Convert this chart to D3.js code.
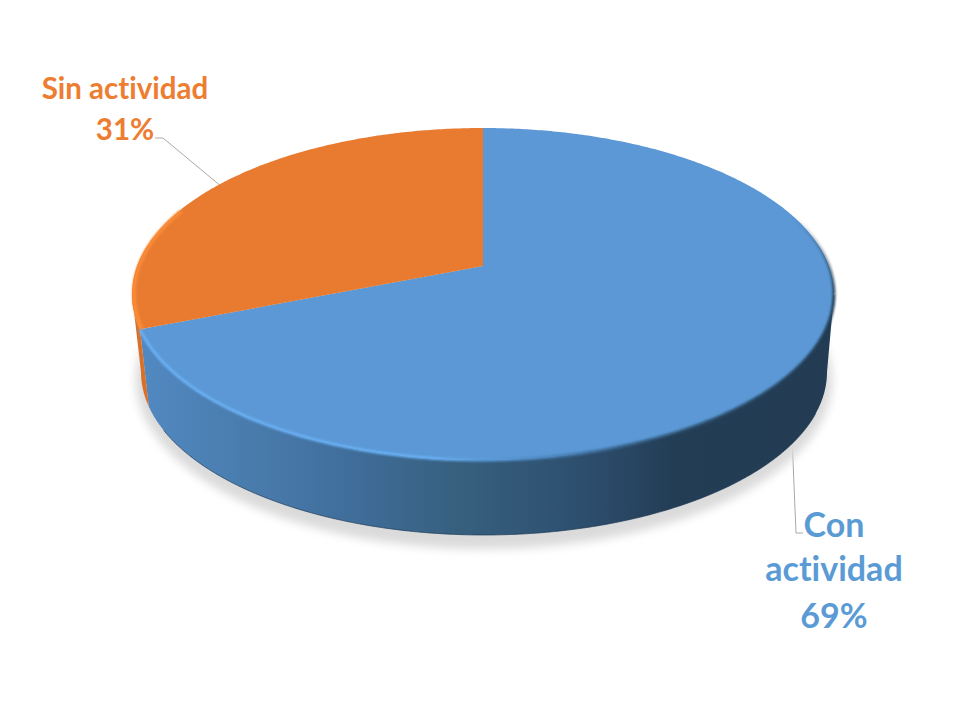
<!DOCTYPE html>
<html><head><meta charset="utf-8">
<script src="https://cdn.jsdelivr.net/npm/d3@7"></script>
<style>html,body{margin:0;background:#fff}svg{display:block}text{font-family:Lato,Carlito,sans-serif;font-weight:700;text-anchor:middle;font-variant-ligatures:none;font-feature-settings:"liga" 0}</style>
</head><body><script>
const categories = ["Con actividad", "Sin actividad"];
const values = [69, 31];
const percentLabels = ["69%", "31%"];
const sliceColors = ["#5b98d5", "#e97b30"];
const wallColors = ["#4a7fb5", "#d9702a"];
const rimColors = ["#69b0f5", "#fb8c38"];
const labelColors = ["#5b9bd5", "#ed7d31"];

const W = 960, H = 720;
const topDisc = {cx: 483, cy: 294, rx: 351, ry: 166};
const baseDisc = {cx: 484, cy: 372, rx: 343, ry: 163};
const a = (266 - 294) / 166; // perspective shift of the pie centre
const k = Math.sqrt(1 - a * a);

function project(d, t) {
  const u = Math.sin(t), v = -Math.cos(t), q = 1 + a * v;
  return [d.cx + d.rx * k * u / q, d.cy + d.ry * (v + a) / q];
}
function samples(d, t0, t1) {
  const n = Math.max(2, Math.ceil(Math.abs(t1 - t0) / 0.01));
  return d3.range(n + 1).map(i => project(d, t0 + (t1 - t0) * i / n));
}
const line = d3.line();
const svg = d3.select("body").append("svg").attr("width", W).attr("height", H);
const defs = svg.append("defs");

defs.append("filter").attr("id", "shadow").attr("x", "-10%").attr("y", "-10%").attr("width", "120%").attr("height", "120%")
  .append("feGaussianBlur").attr("stdDeviation", 5);
defs.append("filter").attr("id", "soft").attr("filterUnits", "userSpaceOnUse").attr("x", 0).attr("y", 0).attr("width", W).attr("height", H)
  .append("feGaussianBlur").attr("stdDeviation", 1.3);

const wallGrad = defs.append("linearGradient").attr("id", "wallBlue")
  .attr("gradientUnits", "userSpaceOnUse").attr("x1", 140).attr("x2", 840).attr("y1", 0).attr("y2", 0);
[[0, "#5189c1"], [0.14, "#4a7daf"], [0.3, "#406e9b"], [0.45, "#37607f"], [0.6, "#2f5272"], [0.68, "#2a4866"], [0.76, "#233d55"], [1, "#233c54"]]
  .forEach(s => wallGrad.append("stop").attr("offset", s[0]).attr("stop-color", s[1]));

const rimGrad = defs.append("linearGradient").attr("id", "rimBlue")
  .attr("gradientUnits", "userSpaceOnUse").attr("x1", 140).attr("x2", 840).attr("y1", 0).attr("y2", 0);
[[0, "#69b0f5"], [0.42, "#69b0f5"], [0.58, "#4a84bd"], [0.72, "#2f5677"], [1, "#233c54"]]
  .forEach(s => rimGrad.append("stop").attr("offset", s[0]).attr("stop-color", s[1]));

const rimFade = defs.append("linearGradient").attr("id", "rimFade")
  .attr("gradientUnits", "userSpaceOnUse").attr("x1", 0).attr("x2", 0).attr("y1", 215).attr("y2", 300);
[[0, 0], [1, 1]].forEach(s => rimFade.append("stop").attr("offset", s[0]).attr("stop-color", "#233c54").attr("stop-opacity", s[1]));

const pie = d3.pie().sort(null).value(d => d)(values);
const leftLimit = 2 * Math.PI - Math.acos(a), rightLimit = Math.acos(a);

// Leader lines sit behind the pie
const leaders = [[[803, 533], [796, 533], [792, 436]], [[155, 138], [163, 138], [222, 187]]];
svg.selectAll("path.leader").data(leaders).join("path").attr("class", "leader")
  .attr("d", line).attr("fill", "none").attr("stroke", "#a9a9a9").attr("stroke-width", 1);

// Soft shadow under the base
const shadowDisc = {cx: baseDisc.cx, cy: baseDisc.cy + 8, rx: baseDisc.rx + 5, ry: baseDisc.ry + 6};
svg.append("path").attr("d", line(samples(shadowDisc, 0, 2 * Math.PI)) + "Z")
  .attr("fill", "#dadada").attr("filter", "url(#shadow)");

// Side walls
pie.forEach((s, i) => {
  const t0 = Math.max(s.startAngle, rightLimit), t1 = Math.min(s.endAngle, leftLimit);
  if (t1 <= t0) return;
  const pts = samples(topDisc, t0, t1).concat(samples(baseDisc, t1, t0));
  svg.append("path").attr("d", line(pts) + "Z").attr("fill", i === 0 ? "url(#wallBlue)" : wallColors[i]);
});

// Dark thin base line on the front
svg.append("path").attr("d", line(samples(baseDisc, rightLimit + 0.25, leftLimit - 0.35)))
  .attr("fill", "none").attr("stroke", "#1f3b57").attr("stroke-width", 1).attr("opacity", 0.7);

// Top slices
pie.forEach((s, i) => {
  const apex = [topDisc.cx, topDisc.cy + a * topDisc.ry];
  svg.append("path").attr("d", line([apex].concat(samples(topDisc, s.startAngle, s.endAngle))) + "Z").attr("fill", sliceColors[i]);
});

// Bevel rims
svg.append("path").attr("d", line(samples(topDisc, 0.95, rightLimit))).attr("fill", "none")
  .attr("stroke", "url(#rimFade)").attr("stroke-width", 3).attr("filter", "url(#soft)");
svg.append("path").attr("d", line(samples(topDisc, rightLimit, pie[0].endAngle))).attr("fill", "none")
  .attr("stroke", "url(#rimBlue)").attr("stroke-width", 3).attr("filter", "url(#soft)");
const insetTop = {cx: topDisc.cx, cy: topDisc.cy, rx: topDisc.rx - 2, ry: topDisc.ry - 1};
svg.append("path").attr("d", line(samples(insetTop, pie[1].startAngle, pie[1].startAngle + 0.75))).attr("fill", "none")
  .attr("stroke", rimColors[1]).attr("stroke-width", 3.5).attr("filter", "url(#soft)");

// Labels
const labels = [
  {lines: ["Con", "actividad", percentLabels[0]], x: [834, 834, 834], y: [537, 581, 628], size: 34, color: labelColors[0]},
  {lines: [categories[1], percentLabels[1]], x: [125, 125], y: [99, 140], size: 29.5, color: labelColors[1]}
];
labels.forEach(l => l.lines.forEach((t, j) => {
  svg.append("text").attr("x", l.x[j]).attr("y", l.y[j]).attr("font-size", l.size).attr("fill", l.color).text(t);
}));
</script></body></html>
